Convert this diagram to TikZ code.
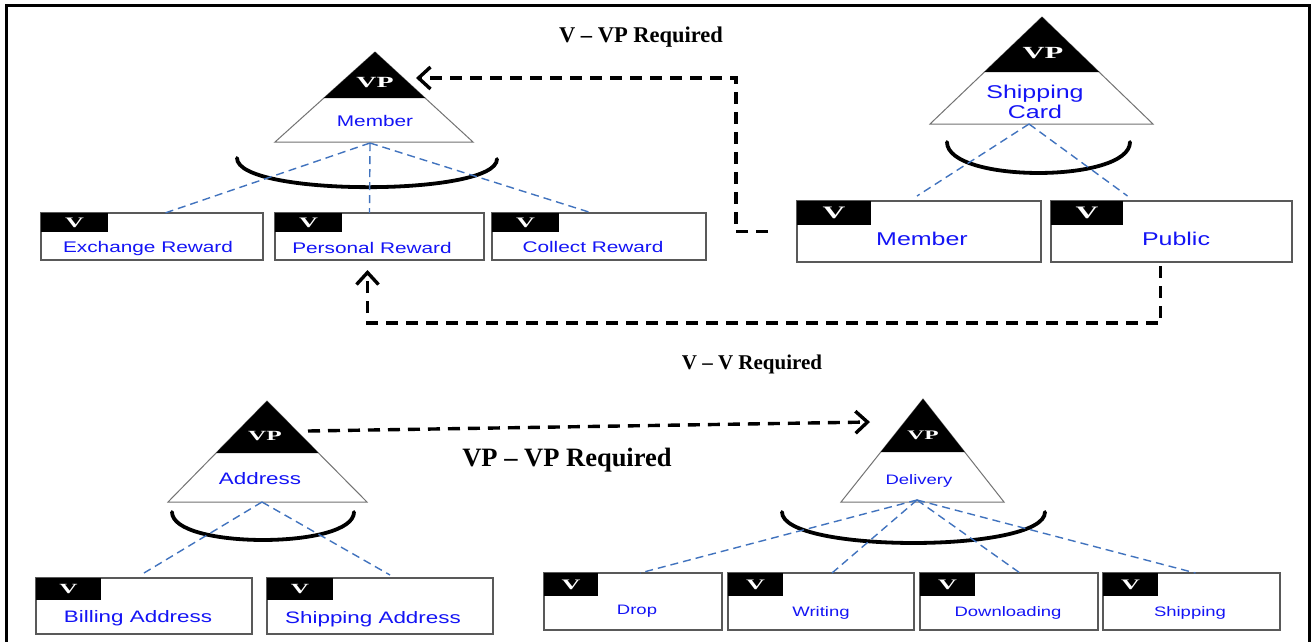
\documentclass[tikz,border=0pt]{standalone}
\usepackage{fontspec}
\setmainfont{Liberation Serif}
\newfontfamily\sansw[FakeStretch=1.35]{Liberation Sans}
\newfontfamily\serifw[FakeStretch=1.8]{Liberation Serif}
\usetikzlibrary{arrows.meta,calc}
\definecolor{dashblue}{RGB}{65,115,190}
\definecolor{txtblue}{RGB}{20,20,245}
\tikzset{
  boxst/.style={draw=black!65, line width=1.2pt, fill=white, inner sep=0pt, outer sep=0pt, anchor=north west},
  tabst/.style={fill=black},
  vmark/.style={text=white, font=\serifw\bfseries\fontsize{#1}{#1}\selectfont, inner sep=0pt, anchor=base},
  btext/.style={text=txtblue, font=\sansw\fontsize{#1}{#1}\selectfont, inner sep=0pt, anchor=base},
  tri/.style={draw=black!55, line width=1pt, fill=white},
  blink/.style={draw=dashblue, line width=1.4pt, dash pattern=on 8pt off 5pt},
  harc/.style={draw=black, line width=3.8pt, line cap=round},
  req/.style={draw=black, line width=3.4pt, dash pattern=on 12pt off 8pt, -{Straight Barb[length=12pt,width=22pt]}},
  reqlab/.style={font=\bfseries\fontsize{#1}{#1}\selectfont, inner sep=0pt, anchor=base},
}
% #1 name #2 x1 #3 y1 #4 x2 #5 y2 #6 tab x2 #7 tab y2 #8 V size
\newcommand\featbox[8]{%
  \node[boxst, minimum width={(#4-#2)*1pt}, minimum height={(#5-#3)*1pt}] (#1) at (#2,#3) {};
  \path[tabst] (#2,#3) rectangle (#6,#7);
  \node[vmark=#8] (#1-v) at ({(#2+#6)/2},{(#3+#7)/2+0.33*#8}) {V};
}
% #1 name #2 apex x #3 apex y #4 black y #5 base y #6 base centre x #7 half base
\newcommand\vptri[7]{%
  \coordinate (#1-a) at (#2,#3);
  \coordinate (#1-l) at ({#6-#7},#5);
  \coordinate (#1-r) at ({#6+#7},#5);
  \path[tri] (#1-a) -- (#1-r) -- (#1-l) -- cycle;
  \pgfmathsetmacro\frc{(#4-#3)/(#5-#3)}
  \fill (#1-a) -- ($(#1-a)!\frc!(#1-r)$) -- ($(#1-a)!\frc!(#1-l)$) -- cycle;
}
\begin{document}
\begin{tikzpicture}[x=1pt,y=-1pt]
\path[use as bounding box] (0,0) rectangle (1312,641);
\clip (0,0) rectangle (1312,641);
\draw[line width=3pt] (6,680) -- (6,5) -- (1309,5) -- (1309,680);

% ---------- Member (top left)
\vptri{tm}{375}{52}{98}{142}{374}{99}
\node[vmark=15.5] (tm-vp) at (375,87) {VP};
\node[btext=15.4] (tm-t) at (375,126) {Member};
\draw[harc] (237,158) .. controls (237,196.7) and (497,196.7) .. (497,159);
\featbox{er}{41}{213}{263}{260}{108}{232}{14.5}
\featbox{pr}{275}{213}{484}{260}{342}{232}{14.5}
\featbox{cr}{492}{213}{706}{260}{559}{232}{14.5}
\node[btext=15.4] (er-t) at (148,252.5) {Exchange Reward};
\node[btext=15.4] (pr-t) at (372,253) {Personal Reward};
\node[btext=15.4] (cr-t) at (593,252.5) {Collect Reward};
\coordinate (tm-b) at (370,143);
\draw[blink] (tm-b) -- ([xshift=13pt]er.north);
\draw[blink] (tm-b) -- ([xshift=-10pt]pr.north);
\draw[blink] (tm-b) -- ([xshift=-7pt]cr.north);

% ---------- Shipping Card (top right)
\vptri{tsc}{1042}{17}{72}{124}{1041.5}{111.5}
\node[vmark=17] (tsc-vp) at (1043,58) {VP};
\node[btext=18.5, align=center, anchor=north] (tsc-t) at (1035,85) {Shipping\\[1pt]Card};
\draw[harc] (947,142) .. controls (947,183.3) and (1130,183.3) .. (1130,142);
\featbox{smb}{797}{201}{1041}{262}{871}{225}{17.5}
\featbox{pb}{1051}{201}{1292}{262}{1123}{225}{17.5}
\node[btext=18.5] (smb-t) at (922,245.5) {Member};
\node[btext=18.5] (pb-t) at (1176,245.5) {Public};
\coordinate (tsc-b) at (1029,124);
\draw[blink] (tsc-b) -- ([xshift=-2pt,yshift=5pt]smb.north);
\draw[blink] (tsc-b) -- ([xshift=-44pt,yshift=5pt]pb.north);

% ---------- Address (bottom left)
\vptri{tad}{267}{401}{453}{502}{267.5}{99.5}
\node[vmark=14] (tad-vp) at (265,440) {VP};
\node[btext=16.6] (tad-t) at (260,484.5) {Address};
\draw[harc] (172,512) .. controls (172,549.3) and (354,549.3) .. (354,512);
\featbox{ba}{36}{578}{252}{634}{101}{600}{14}
\featbox{sa}{267}{578}{493}{634}{333}{600}{14}
\node[btext=16.6] (ba-t) at (138,622) {Billing Address};
\node[btext=16.6] (sa-t) at (373,623) {Shipping Address};
\coordinate (tad-b) at (262,502);
\draw[blink] (tad-b) -- ([yshift=5pt]ba.north);
\draw[blink] (tad-b) -- ([xshift=10pt,yshift=3pt]sa.north);

% ---------- Delivery (bottom right)
\vptri{tde}{923}{399}{452}{502}{922.5}{81.5}
\node[vmark=13] (tde-vp) at (923,439) {VP};
\node[btext=13.7] (tde-t) at (919,484) {Delivery};
\draw[harc] (782,512) .. controls (782,553.3) and (1045,553.3) .. (1045,512);
\featbox{dr}{544}{573}{722}{630}{598}{596}{14.5}
\featbox{wr}{728}{573}{914}{630}{783}{596}{14.5}
\featbox{dl}{920}{573}{1098}{630}{975}{596}{14.5}
\featbox{sh}{1103}{573}{1280}{630}{1158}{596}{14.5}
\node[btext=13.7] (dr-t) at (637,614.5) {Drop};
\node[btext=13.7] (wr-t) at (821,616.5) {Writing};
\node[btext=13.7] (dl-t) at (1008,616.5) {Downloading};
\node[btext=13.7] (sh-t) at (1190,616.5) {Shipping};
\coordinate (tde-b) at (917,500);
\draw[blink] (tde-b) -- ([xshift=7pt]dr.north);
\draw[blink] (tde-b) -- ([xshift=11pt]wr.north);
\draw[blink] (tde-b) -- ([xshift=11pt]dl.north);
\draw[blink] (tde-b) -- ([xshift=4pt]sh.north);

% ---------- requirement connectors
\coordinate (tm-in) at (416,78);
\draw[req] ([xshift=-29pt]smb.west) -- ++(-32,0) |- (tm-in);
\node[reqlab=22.5] (l-vvp) at (641,42.5) {V – VP Required};

\draw[req] ([shift={(-11pt,-4pt)}]pb.south) -- ++(0,57) -| ([shift={(-12pt,-10pt)}]pr.south);
\node[reqlab=21] (l-vv) at (752,369) {V – V Required};

\coordinate (tad-out) at (308,431);
\coordinate (tde-in) at (870,422);
\draw[req] (tad-out) -- (tde-in);
\node[reqlab=26.5] (l-vpvp) at (567,466) {VP – VP Required};
\end{tikzpicture}
\end{document}
